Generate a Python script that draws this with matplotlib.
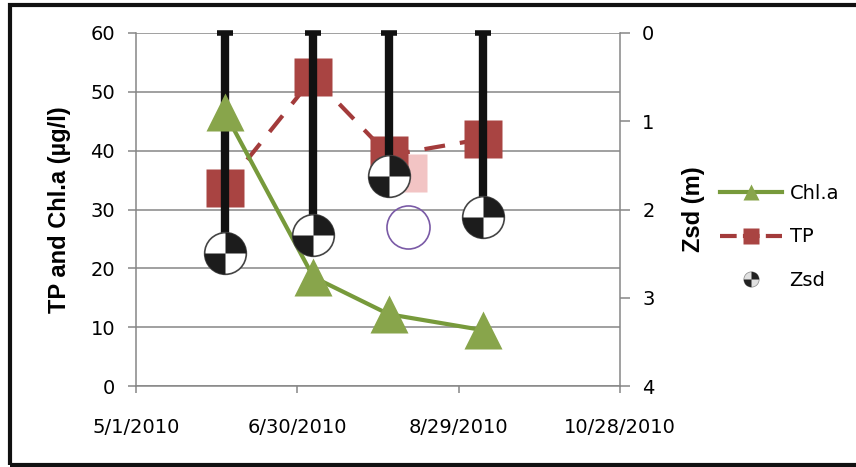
import numpy as np
import matplotlib.pyplot as plt
import matplotlib.dates as mdates
from matplotlib.path import Path
from matplotlib.lines import Line2D
from matplotlib.patches import Rectangle
from matplotlib.legend_handler import HandlerTuple

plt.rcParams['font.family'] = ['DejaVu Sans']

# sampling dates and values
dates = ['2010-06-03', '2010-07-06', '2010-08-03', '2010-09-07']
chla = [46.5, 18.5, 12.2, 9.5]
tp = [33.7, 52.5, 39.2, 42.0]
zsd = [2.49, 2.29, 1.62, 2.09]

# leftover selection marks in the original picture
ghost_date = ['2010-08-10']
ghost_tp = [36.2]
ghost_circle = [27.0]

xticks = ['2010-05-01', '2010-06-30', '2010-08-29', '2010-10-28']
yticks_left = [0, 10, 20, 30, 40, 50, 60]
yticks_right = [0, 1, 2, 3, 4]

d = mdates.datestr2num(dates)
gd = mdates.datestr2num(ghost_date)
xt = mdates.datestr2num(xticks)

grey = '#868686'
green_line = '#779a3b'
green_mark = '#88a54b'
red = '#a94442'

fig = plt.figure(figsize=(8.56, 4.67), dpi=100)
ax = fig.add_axes([136/856, 1-386/467, (620-136)/856, (386-33)/467])
ax2 = ax.twinx()

ax.set_xlim(xt[0], xt[-1])
ax.set_ylim(0, 60)
ax2.set_ylim(4, 0)

ax.set_yticks(yticks_left)
ax.yaxis.grid(True, color=grey, lw=1.1, zorder=0)
ax.set_axisbelow(True)
ax.set_xticks(xt)
ax.set_xticklabels([f'{mdates.num2date(v).month}/{mdates.num2date(v).day}/{mdates.num2date(v).year}' for v in xt])
ax2.set_yticks(yticks_right)

for s in ['top', 'right']:
    ax.spines[s].set_visible(False)
for s in ['left', 'bottom']:
    ax.spines[s].set_color(grey)
    ax.spines[s].set_linewidth(1.1)
for s in ['top', 'left', 'bottom']:
    ax2.spines[s].set_visible(False)
ax2.spines['right'].set_color(grey)
ax2.spines['right'].set_linewidth(1.1)

ax.tick_params(axis='y', length=6, width=1.1, color=grey, pad=9, labelsize=14)
ax.tick_params(axis='x', length=5, width=1.1, color=grey, pad=18, labelsize=14)
ax2.tick_params(axis='y', length=7, width=1.1, color=grey, pad=9, labelsize=14)

ax.set_ylabel('TP and Chl.a (µg/l)', fontsize=17, fontweight='bold',
              family='Liberation Sans', labelpad=14)
ax2.set_ylabel('Zsd (m)', fontsize=17, fontweight='bold',
               family='Liberation Sans', labelpad=20)

# ghost marks
ax.plot(gd, ghost_tp, ls='none', marker='s', ms=28, mfc='#f2c4c4', mec='none', zorder=2)
ax.plot(gd, ghost_circle, ls='none', marker='o', ms=31, mfc='none', mec='#7a5aa6', mew=1.2, zorder=2)

# TP
ax.plot(d, tp, color='#a33b3b', lw=3, dashes=(5, 3.6), marker='s', ms=28,
        mfc=red, mec='none', zorder=3)

# Zsd stems hanging from the top
zt = ax2.transData
ax.vlines(d, np.zeros(len(d)), zsd, color='#111111', lw=6, transform=zt, zorder=4)
ax.plot(d, np.zeros(len(d)), ls='none', marker='_', ms=11, mew=4, color='#111111',
        transform=zt, zorder=4, clip_on=False)

# Chl.a
ax.plot(d, chla, color=green_line, lw=3, marker='^', ms=28, mfc=green_mark, mec='none', zorder=5)

# secchi disks
quad = Path.make_compound_path(Path.wedge(0, 90), Path.wedge(180, 270))
ax.plot(d, zsd, ls='none', marker='o', ms=30, mfc='white', mec='#444444', mew=1.2,
        transform=zt, zorder=6)
ax.plot(d, zsd, ls='none', marker=quad, ms=30, mfc='#1c1c1c', mec='none',
        transform=zt, zorder=7)

# legend
h_chla = Line2D([], [], color=green_line, lw=3, marker='^', ms=12, mfc=green_mark, mec='none')
h_tp = Line2D([], [], color='#a33b3b', lw=3, dashes=(4, 1.5), marker='s', ms=11, mfc=red, mec='none')
h_disk = Line2D([], [], ls='none', marker='o', ms=11, mfc='#e0e0e0', mec='#888888', mew=0.5)
h_quad = Line2D([], [], ls='none', marker=quad, ms=11, mfc='#222222', mec='none')
fig.legend([h_chla, h_tp, (h_disk, h_quad)], ['Chl.a', 'TP', 'Zsd'], loc='center left',
           bbox_to_anchor=(702/856, 1-237/467), frameon=False, fontsize=14,
           handlelength=3.2, labelspacing=1.25, handletextpad=0.4,
           handler_map={tuple: HandlerTuple(ndivide=1, pad=0)})

# outer frame of the chart
fig.patches.append(Rectangle((9.5/856, 2/467), 1.05, 460/467, transform=fig.transFigure,
                             fill=False, ec='#111111', lw=3, clip_on=False))

fig.savefig('out.png', dpi=100)
